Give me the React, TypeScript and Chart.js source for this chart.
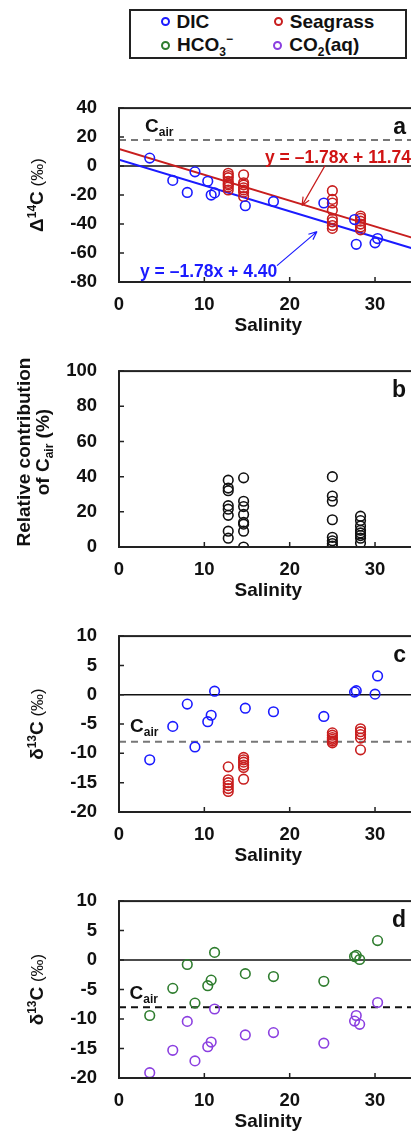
import React, { useEffect, useRef } from 'react';
import { Chart, registerables } from 'chart.js';
Chart.register(...registerables);

const FONT = '"Liberation Sans", Arial, Helvetica, sans-serif';

// ---------- data ----------
const dicSal = [3.6, 6.3, 8.0, 8.9, 10.4, 10.8, 11.2, 14.8, 18.1, 24.0, 27.6, 27.8, 30.0, 30.3];
const dicD14C = [5.5, -9.9, -18.2, -4.0, -10.5, -20.0, -18.5, -27.4, -24.4, -25.5, -36.9, -54.0, -53.0, -50.0];
const dicD13C = [-11.1, -5.4, -1.6, -8.9, -4.6, -3.5, 0.6, -2.3, -2.9, -3.7, 0.45, 0.7, 0.1, 3.2];

const seagrassSal = [12.8, 14.6, 25.0, 28.3];
const seagrassD14C = [
  [-5, -6.5, -8, -10.5, -12, -13, -14.5, -16.5],
  [-6, -11.5, -13, -15, -16.5, -18, -21],
  [-17, -23, -25.5, -30.5, -36.5, -38.5, -41, -43],
  [-34.5, -36, -38, -40, -42, -44],
];
const cairContribution = [
  [38, 33.5, 32, 23.5, 21.5, 18, 9, 5],
  [39.3, 26, 23, 18.5, 14, 13, 9, 0],
  [40, 29, 26, 15.5, 5.5, 3.5, 2, 0.5],
  [17.5, 15, 12, 9.5, 8, 6.5, 5, 2.3],
];
const seagrassD13C = [
  [-12.3, -14.5, -15, -15.5, -16, -16.5],
  [-10.7, -11.1, -11.5, -12, -12.4, -14.4],
  [-6.5, -6.9, -7.3, -7.6, -7.9, -8.2],
  [-5.8, -6.3, -6.8, -7.4, -9.4],
];

const specSal = [3.6, 6.3, 8.0, 8.9, 10.4, 10.8, 11.2, 14.8, 18.1, 24.0, 27.6, 27.8, 28.2, 30.3];
const hco3D13C = [-9.4, -4.8, -0.75, -7.3, -4.35, -3.4, 1.3, -2.3, -2.8, -3.6, 0.6, 0.8, 0.1, 3.3];
const co2D13C = [-19.1, -15.3, -10.4, -17.1, -14.7, -13.9, -8.3, -12.7, -12.3, -14.1, -10.35, -9.4, -10.9, -7.2];

// regression lines (from printed equations): endpoints at x = 0 and x = 35
const fitX = [0, 35];
const seagrassFitY = [11.74, -50.56];
const dicFitY = [4.4, -57.9];

const cairD14C = 18;
const cairD13C = -8;

const xTickLabels = [0, 10, 20, 30];

// ---------- styles ----------
const BLUE = '#1b1bff';
const RED = '#c81e1e';
const GREEN = '#2f7d2f';
const PURPLE = '#8b3fe0';
const BLACK = '#111111';

const CANVAS_W = 430;
const PLOT_LEFT = 119;
const PLOT_RIGHT = 417.7;

function pts(xs: number[], ys: number[]) {
  return xs.map((x, i) => ({ x, y: ys[i] }));
}
function colPts(xs: number[], cols: number[][]) {
  const out: { x: number; y: number }[] = [];
  cols.forEach((c, i) => c.forEach((y) => out.push({ x: xs[i], y })));
  return out;
}
function scatterDs(data: any[], color: string) {
  return {
    data,
    showLine: false,
    pointStyle: 'circle',
    pointRadius: 4.8,
    pointBorderWidth: 1.6,
    pointBorderColor: color,
    pointBackgroundColor: 'rgba(0,0,0,0)',
    borderColor: color,
  };
}
function lineDs(data: any[], color: string) {
  return {
    data,
    showLine: true,
    pointRadius: 0,
    borderWidth: 2,
    borderColor: color,
    backgroundColor: color,
  };
}

type Part = { t: string; font: string; dy?: number; color?: string };
function drawRich(ctx: CanvasRenderingContext2D, parts: Part[], x: number, y: number, rot = 0, align = 'left') {
  ctx.save();
  ctx.translate(x, y);
  if (rot) ctx.rotate(rot);
  ctx.textBaseline = 'alphabetic';
  ctx.textAlign = 'left';
  let total = 0;
  for (const p of parts) {
    ctx.font = p.font;
    total += ctx.measureText(p.t).width;
  }
  let cx = align === 'center' ? -total / 2 : align === 'right' ? -total : 0;
  for (const p of parts) {
    ctx.font = p.font;
    ctx.fillStyle = p.color || BLACK;
    ctx.fillText(p.t, cx, p.dy || 0);
    cx += ctx.measureText(p.t).width;
  }
  ctx.restore();
}

const B19 = `bold 19px ${FONT}`;
const B12 = `bold 12px ${FONT}`;
const N17 = `17px ${FONT}`;

function cairParts(color = BLACK): Part[] {
  return [
    { t: 'C', font: B19, color },
    { t: 'air', font: B12, dy: 4, color },
  ];
}

function arrow(ctx: CanvasRenderingContext2D, x1: number, y1: number, x2: number, y2: number, color: string) {
  ctx.save();
  ctx.strokeStyle = color;
  ctx.lineWidth = 1.2;
  ctx.beginPath();
  ctx.moveTo(x1, y1);
  ctx.lineTo(x2, y2);
  const a = Math.atan2(y2 - y1, x2 - x1);
  const L = 9;
  ctx.moveTo(x2, y2);
  ctx.lineTo(x2 - L * Math.cos(a - 0.4), y2 - L * Math.sin(a - 0.4));
  ctx.moveTo(x2, y2);
  ctx.lineTo(x2 - L * Math.cos(a + 0.4), y2 - L * Math.sin(a + 0.4));
  ctx.stroke();
  ctx.restore();
}

type Spec = {
  top: number;
  height: number;
  padTop: number;
  yMin: number;
  yMax: number;
  yStep: number;
  datasets: any[];
  zero: boolean;
  cair: null | { value: number; color: string; labelDx: number; labelDy: number };
  letter: string;
  yTitle: (ctx: CanvasRenderingContext2D, cy: number) => void;
  extra?: (ctx: CanvasRenderingContext2D, ca: any) => void;
};

function makePlugin(spec: Spec) {
  return {
    id: 'decor',
    beforeDatasetsDraw(chart: any) {
      const { ctx, chartArea: ca, scales } = chart;
      const y = scales.y;
      ctx.save();
      if (spec.zero) {
        const py = y.getPixelForValue(0);
        ctx.strokeStyle = BLACK;
        ctx.lineWidth = 1.5;
        ctx.beginPath();
        ctx.moveTo(ca.left, py);
        ctx.lineTo(ca.right, py);
        ctx.stroke();
      }
      if (spec.cair) {
        const py = y.getPixelForValue(spec.cair.value);
        ctx.strokeStyle = spec.cair.color;
        ctx.lineWidth = 2;
        ctx.setLineDash([7, 5]);
        ctx.beginPath();
        ctx.moveTo(ca.left, py);
        ctx.lineTo(ca.right, py);
        ctx.stroke();
      }
      ctx.restore();
    },
    afterDatasetsDraw(chart: any) {
      const { ctx, chartArea: ca, scales } = chart;
      const { x, y } = scales;
      ctx.save();
      ctx.strokeStyle = '#222';
      ctx.lineWidth = 2;
      ctx.strokeRect(ca.left, ca.top, ca.right - ca.left, ca.bottom - ca.top);
      ctx.lineWidth = 1.5;
      ctx.beginPath();
      for (const t of x.ticks) {
        const px = x.getPixelForValue(t.value);
        ctx.moveTo(px, ca.bottom);
        ctx.lineTo(px, ca.bottom - 5);
      }
      for (const t of y.ticks) {
        const py = y.getPixelForValue(t.value);
        ctx.moveTo(ca.left, py);
        ctx.lineTo(ca.left + 5, py);
      }
      ctx.stroke();
      ctx.restore();
    },
    afterDraw(chart: any) {
      const { ctx, chartArea: ca, scales } = chart;
      const y = scales.y;
      if (spec.cair) {
        const py = y.getPixelForValue(spec.cair.value);
        drawRich(ctx, cairParts(), ca.left + spec.cair.labelDx, py - spec.cair.labelDy);
      }
      drawRich(ctx, [{ t: spec.letter, font: `bold 23px ${FONT}` }], ca.left + 287, ca.top + 26, 0, 'right');
      spec.yTitle(ctx, (ca.top + ca.bottom) / 2);
      if (spec.extra) spec.extra(ctx, ca);
    },
  };
}

function Panel({ spec }: { spec: Spec }) {
  const ref = useRef<HTMLCanvasElement>(null);
  useEffect(() => {
    if (!ref.current) return;
    const tickFont = { family: FONT, size: 18.5, weight: 'bold' as const };
    const chart = new Chart(ref.current, {
      type: 'scatter',
      data: { datasets: spec.datasets },
      options: {
        animation: false,
        responsive: false,
        maintainAspectRatio: false,
        events: [],
        layout: { padding: { top: spec.padTop, right: CANVAS_W - PLOT_RIGHT, left: 0, bottom: 0 } },
        plugins: { legend: { display: false }, tooltip: { enabled: false } },
        scales: {
          x: {
            type: 'linear',
            min: 0,
            max: 35,
            grid: { display: false, drawTicks: false },
            border: { display: false },
            ticks: { stepSize: 10, font: tickFont, color: BLACK, padding: 12, maxRotation: 0, autoSkip: false },
            afterBuildTicks: (s: any) => {
              s.ticks = xTickLabels.map((v) => ({ value: v }));
            },
            afterFit: (s: any) => {
              s.height = 56;
            },
            title: {
              display: true,
              text: 'Salinity',
              font: { family: FONT, size: 19, weight: 'bold' },
              color: BLACK,
              padding: { top: 0, bottom: 0.6 },
            },
          },
          y: {
            type: 'linear',
            min: spec.yMin,
            max: spec.yMax,
            grid: { display: false, drawTicks: false },
            border: { display: false },
            ticks: { stepSize: spec.yStep, font: tickFont, color: BLACK, padding: 22 },
            afterFit: (s: any) => {
              s.width = PLOT_LEFT;
            },
          },
        },
      } as any,
      plugins: [makePlugin(spec)],
    });
    return () => chart.destroy();
  }, [spec]);
  return (
    <canvas
      ref={ref}
      width={CANVAS_W}
      height={spec.height}
      style={{ position: 'absolute', left: 0, top: spec.top, width: CANVAS_W, height: spec.height }}
    />
  );
}

function deltaTitle(sym: string, sup: string) {
  return (ctx: CanvasRenderingContext2D, cy: number) => {
    drawRich(
      ctx,
      [
        { t: sym, font: B19 },
        { t: sup, font: B12, dy: -7 },
        { t: 'C', font: B19 },
        { t: ' (‰)', font: N17 },
      ],
      43,
      cy,
      -Math.PI / 2,
      'center'
    );
  };
}

const specA: Spec = {
  top: 75,
  height: 263,
  padTop: 24.5,
  yMin: -80,
  yMax: 40,
  yStep: 20,
  datasets: [
    scatterDs(pts(dicSal, dicD14C), BLUE),
    scatterDs(colPts(seagrassSal, seagrassD14C), RED),
    lineDs(pts(fitX, seagrassFitY), RED),
    lineDs(pts(fitX, dicFitY), BLUE),
  ],
  zero: true,
  cair: { value: cairD14C, color: '#777', labelDx: 26, labelDy: 8 },
  letter: 'a',
  yTitle: deltaTitle('Δ', '14'),
  extra: (ctx, ca) => {
    drawRich(ctx, [{ t: 'y = –1.78x + 11.74', font: `bold 17.5px ${FONT}`, color: '#d01414' }], ca.left + 146, ca.top + 55);
    drawRich(ctx, [{ t: 'y = –1.78x + 4.40', font: `bold 17.5px ${FONT}`, color: BLUE }], ca.left + 21, ca.top + 169);
    arrow(ctx, ca.left + 206, ca.top + 57.5, ca.left + 183, ca.top + 97.5, RED);
    arrow(ctx, ca.left + 158, ca.top + 157.5, ca.left + 198, ca.top + 123.5, BLUE);
  },
};

const specB: Spec = {
  top: 338,
  height: 265,
  padTop: 25,
  yMin: 0,
  yMax: 100,
  yStep: 20,
  datasets: [scatterDs(colPts(seagrassSal, cairContribution), BLACK)],
  zero: false,
  cair: null,
  letter: 'b',
  yTitle: (ctx, cy) => {
    drawRich(ctx, [{ t: 'Relative contribution', font: B19 }], 30, cy - 7, -Math.PI / 2, 'center');
    drawRich(
      ctx,
      [
        { t: 'of C', font: B19 },
        { t: 'air', font: B12, dy: 4 },
        { t: ' (%)', font: B19 },
      ],
      48.5,
      cy - 7,
      -Math.PI / 2,
      'center'
    );
  },
};

const specC: Spec = {
  top: 603,
  height: 265,
  padTop: 25,
  yMin: -20,
  yMax: 10,
  yStep: 5,
  datasets: [scatterDs(pts(dicSal, dicD13C), BLUE), scatterDs(colPts(seagrassSal, seagrassD13C), RED)],
  zero: true,
  cair: { value: cairD13C, color: '#777', labelDx: 11, labelDy: 9.5 },
  letter: 'c',
  yTitle: deltaTitle('δ', '13'),
};

const specD: Spec = {
  top: 868,
  height: 266,
  padTop: 27,
  yMin: -20,
  yMax: 10,
  yStep: 5,
  datasets: [scatterDs(pts(specSal, hco3D13C), GREEN), scatterDs(pts(specSal, co2D13C), PURPLE)],
  zero: true,
  cair: { value: cairD13C, color: BLACK, labelDx: 10.5, labelDy: 8.5 },
  letter: 'd',
  yTitle: deltaTitle('δ', '13'),
};

const legendItems = [
  { label: <>DIC</>, color: BLUE, x: 165, y: 21.7 },
  { label: <>Seagrass</>, color: RED, x: 278.3, y: 21.7 },
  {
    label: (
      <>
        HCO<span style={{ fontSize: 12, position: 'relative', top: 5 }}>3</span>
        <span style={{ fontSize: 12, position: 'relative', top: -8 }}>−</span>
      </>
    ),
    color: GREEN,
    x: 165.5,
    y: 45,
  },
  {
    label: (
      <>
        CO<span style={{ fontSize: 12, position: 'relative', top: 5 }}>2</span>(aq)
      </>
    ),
    color: PURPLE,
    x: 277.7,
    y: 45,
  },
];

export default function App() {
  return (
    <div
      style={{
        position: 'fixed',
        left: 0,
        top: 0,
        width: 411,
        height: 1133,
        overflow: 'hidden',
        background: '#fff',
        fontFamily: FONT,
      }}
    >
      <div
        style={{
          position: 'absolute',
          left: 129,
          top: 9,
          width: 278,
          height: 50,
          boxSizing: 'border-box',
          border: '2px solid #222',
        }}
      />
      {legendItems.map((it, i) => (
        <React.Fragment key={i}>
          <div
            style={{
              position: 'absolute',
              left: it.x - 4.5,
              top: it.y - 4.5,
              width: 9,
              height: 9,
              boxSizing: 'border-box',
              border: `2px solid ${it.color}`,
              borderRadius: '50%',
            }}
          />
          <div
            style={{
              position: 'absolute',
              left: it.x + 11.5,
              top: it.y - 12,
              height: 24,
              lineHeight: '24px',
              fontSize: 19,
              fontWeight: 'bold',
              color: BLACK,
              whiteSpace: 'nowrap',
            }}
          >
            {it.label}
          </div>
        </React.Fragment>
      ))}
      <Panel spec={specA} />
      <Panel spec={specB} />
      <Panel spec={specC} />
      <Panel spec={specD} />
    </div>
  );
}
